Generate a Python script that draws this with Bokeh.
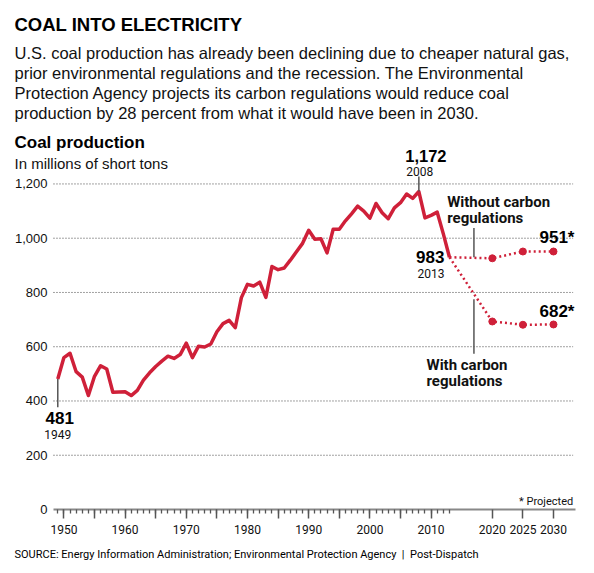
from bokeh.plotting import figure
from bokeh.models import Range1d, FixedTicker, Label, NumeralTickFormatter
from bokeh.embed import file_html
from bokeh.resources import INLINE

# ---------------- data ----------------
years = list(range(1949, 2014))
production = [481, 560, 576, 508, 488, 420, 491, 530, 518, 432,
              433, 434, 420, 439, 477, 504, 527, 547, 565, 557,
              571, 613, 560, 602, 599, 610, 655, 685, 697, 670,
              781, 830, 824, 838, 782, 896, 884, 890, 919, 950,
              981, 1029, 996, 998, 946, 1033, 1033, 1064, 1090, 1118,
              1100, 1074, 1128, 1094, 1072, 1112, 1131, 1163, 1147, 1172,
              1075, 1084, 1096, 1016, 930]

proj_years = [2013, 2020, 2025, 2030]
proj_without = [930, 926, 951, 951]
proj_with = [930, 693, 681, 682]

y_ticks = [0, 200, 400, 600, 800, 1000, 1200]
x_major_ticks = [1950, 1955, 1960, 1965, 1970, 1975, 1980, 1985, 1990,
                 1995, 2000, 2005, 2010, 2020, 2025, 2030]
x_labelled = [1950, 1960, 1970, 1980, 1990, 2000, 2010, 2020, 2025, 2030]

RED = "#cf2039"
INK = "#111111"
SANS = "Liberation Sans"
COND = "Roboto"

W, H = 594, 573
X_START, X_END = 1939.64, 2036.70     # canvas spans these years
Y_START, Y_END = -235.9, 1876.2       # canvas spans these values
PLOT_X0, PLOT_X1 = 1948.3, 2033.6     # extent of axis line
GRID_X1 = 2033.2                      # right end of gridlines

p = figure(width=W, height=H, title=None,
           x_range=Range1d(X_START, X_END), y_range=Range1d(Y_START, Y_END),
           output_backend="svg", toolbar_location=None,
           min_border_left=0, min_border_right=0,
           min_border_top=0, min_border_bottom=0)
p.outline_line_color = None
p.background_fill_color = "white"
p.border_fill_color = "white"

# grid: dotted horizontal rules at the y ticks, drawn across the plot area only
p.xgrid.visible = False
p.ygrid.visible = False
grid_vals = y_ticks[1:]
p.segment(x0=[PLOT_X0] * len(grid_vals), y0=grid_vals,
          x1=[GRID_X1] * len(grid_vals), y1=grid_vals,
          line_color="#444444", line_width=1, line_dash="1 2")

# y axis (fixed inside the canvas)
p.yaxis.fixed_location = PLOT_X0
p.yaxis.ticker = FixedTicker(ticks=y_ticks)
p.yaxis.formatter = NumeralTickFormatter(format="0,0")
p.yaxis.axis_line_color = None
p.yaxis.major_tick_line_color = None
p.yaxis.minor_tick_line_color = None
p.yaxis.major_tick_out = 0
p.yaxis.major_tick_in = 0
p.yaxis.minor_tick_out = 0
p.yaxis.minor_tick_in = 0
p.yaxis.major_label_standoff = 6
p.yaxis.major_label_text_font = SANS
p.yaxis.major_label_text_font_size = "13px"
p.yaxis.major_label_text_color = INK

# x axis (fixed at zero)
p.xaxis.fixed_location = 0
p.xaxis.bounds = (PLOT_X0, PLOT_X1)
p.xaxis.ticker = FixedTicker(ticks=x_major_ticks, minor_ticks=years)
p.xaxis.major_label_overrides = {t: (str(t) if t in x_labelled else "") for t in x_major_ticks}
p.xaxis.axis_line_color = "#888888"
p.xaxis.axis_line_width = 2
p.xaxis.major_tick_line_color = "#555555"
p.xaxis.major_tick_line_width = 1.5
p.xaxis.major_tick_in = 0
p.xaxis.major_tick_out = 9
p.xaxis.minor_tick_line_color = "#555555"
p.xaxis.minor_tick_line_width = 1.3
p.xaxis.minor_tick_in = 0
p.xaxis.minor_tick_out = 4
p.xaxis.major_label_standoff = 6
p.xaxis.major_label_text_font = COND
p.xaxis.major_label_text_font_size = "12px"
p.xaxis.major_label_text_color = INK

# data marks
p.line(years, production, line_color=RED, line_width=3.5, line_join="round")
p.line(proj_years, proj_without, line_color=RED, line_width=2.5, line_dash="2 3")
p.line(proj_years, proj_with, line_color=RED, line_width=2.5, line_dash="2 3")
p.scatter(proj_years[1:], proj_without[1:], size=7, color=RED)
p.scatter(proj_years[1:], proj_with[1:], size=7, color=RED)

# leader lines (annotation positions)
p.segment(x0=[1949, 2008, 2017, 2017], y0=[481, 1172, 930, 775],
          x1=[1949, 2008, 2017, 2017], y1=[377, 1227, 1038, 574],
          line_color="#555555", line_width=1.5)


def page_label(text, px, py, size, font=SANS, bold=False, align="left",
               baseline="alphabetic", color=INK):
    p.add_layout(Label(x=px, y=H - py,
                       x_units="screen", y_units="screen", text=text,
                       text_font=font, text_font_size=f"{size}px",
                       text_font_style="bold" if bold else "normal",
                       text_align=align, text_baseline=baseline,
                       text_color=color))


def data_label(text, x, y, dx, dy, size, font=SANS, bold=False,
               align="center", color=INK):
    p.add_layout(Label(x=x, y=y, x_offset=dx, y_offset=dy, text=text,
                       text_font=font, text_font_size=f"{size}px",
                       text_font_style="bold" if bold else "normal",
                       text_align=align, text_baseline="middle",
                       text_color=color))


# headline and intro
page_label("COAL INTO ELECTRICITY", 14, 23.5, 18.5, bold=True, color="#000000")
page_label("U.S. coal production has already been declining due to cheaper natural gas,", 14, 52.7, 16.5)
page_label("prior environmental regulations and the recession. The Environmental", 14, 72.7, 16.5)
page_label("Protection Agency projects its carbon regulations would reduce coal", 14, 92.7, 16.5)
page_label("production by 28 percent from what it would have been in 2030.", 14, 112.7, 16.5)
page_label("Coal production", 14, 141.5, 17, bold=True, color="#000000")
page_label("In millions of short tons", 14, 162.7, 15)

# point annotations
data_label("1,172", 2008, 1172, 7, 36, 16.5, bold=True, color="#000000")
data_label("2008", 2008, 1172, 1, 20, 12, font=COND)
data_label("983", 2013, 930, -5, 0, 17, bold=True, align="right", color="#000000")
data_label("2013", 2013, 930, -5, -16, 12, font=COND, align="right")
data_label("481", 1949, 481, 2, -39, 17, bold=True, color="#000000")
data_label("1949", 1949, 481, 0, -55, 12, font=COND)
data_label("951*", 2030, 951, -14, 14, 17, bold=True, align="left", color="#000000")
data_label("682*", 2030, 682, -14, 13, 17, bold=True, align="left", color="#000000")

page_label("Without carbon", 446.7, 201, 15, font=COND, bold=True, baseline="middle")
page_label("regulations", 446.7, 217.7, 15, font=COND, bold=True, baseline="middle")
page_label("With carbon", 426, 364, 15, font=COND, bold=True, baseline="middle")
page_label("regulations", 426, 380.7, 15, font=COND, bold=True, baseline="middle")

page_label("* Projected", 572.7, 501, 11, font=COND, align="right")
page_label("SOURCE: Energy Information Administration; Environmental Protection Agency \u00a0|\u00a0 Post-Dispatch",
           14, 554.3, 11, font=COND, color="#000000")

open("out.html", "w").write(file_html(p, INLINE))
